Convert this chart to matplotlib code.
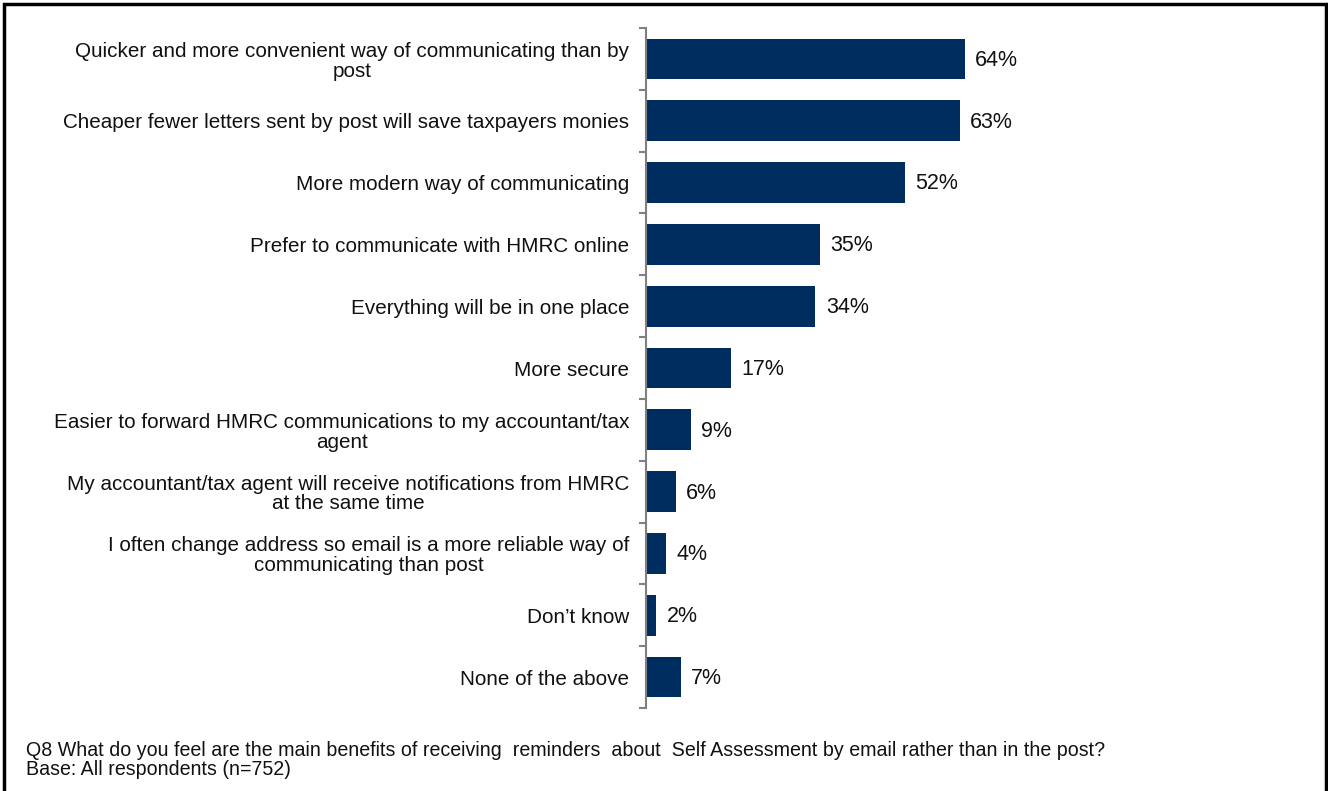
import matplotlib
matplotlib.use("Agg")
import matplotlib.pyplot as plt
from matplotlib.patches import Rectangle

plt.rcParams['font.family'] = ['Liberation Sans', 'DejaVu Sans']

categories = [
    "Quicker and more convenient way of communicating than by\npost",
    "Cheaper fewer letters sent by post will save taxpayers monies",
    "More modern way of communicating",
    "Prefer to communicate with HMRC online",
    "Everything will be in one place",
    "More secure",
    "Easier to forward HMRC communications to my accountant/tax\nagent",
    "My accountant/tax agent will receive notifications from HMRC\nat the same time",
    "I often change address so email is a more reliable way of\ncommunicating than post",
    "Don\u2019t know",
    "None of the above",
]
values = [64, 63, 52, 35, 34, 17, 9, 6, 4, 2, 7]
value_labels = ["64%", "63%", "52%", "35%", "34%", "17%", "9%", "6%", "4%", "2%", "7%"]
footnote = ("Q8 What do you feel are the main benefits of receiving  reminders  about  Self Assessment by email rather than in the post?\n"
            "Base: All respondents (n=752)")

W, H = 1328, 791
fig = plt.figure(figsize=(W / 100, H / 100), dpi=100)
ax = fig.add_axes([646 / W, 1 - 708 / H, (1144 - 646) / W, (708 - 28) / H])

n = len(categories)
pos = list(range(n))
bar_color = '#002D5F'
ax.barh(pos, values, height=0.66, color=bar_color, zorder=2)
ax.set_ylim(n - 0.5, -0.5)
ax.set_xlim(0, 100)

for p, v, lab in zip(pos, values, value_labels):
    ax.annotate(lab, xy=(v, p), xytext=(7.5, -1), textcoords='offset points',
                ha='left', va='center', fontsize=15.5, color='#111111')

ax.set_yticks(pos)
ax.set_yticklabels(categories, fontsize=14.9, multialignment='center', color='#111111',
                   linespacing=1.05)
ax.tick_params(axis='y', which='major', length=0, pad=12)
ax.set_yticks([i - 0.5 for i in range(n + 1)], minor=True)
ax.tick_params(axis='y', which='minor', length=5, width=1.5, color='#808080', direction='out')
ax.set_xticks([])

for s in ['top', 'right', 'bottom']:
    ax.spines[s].set_visible(False)
ax.spines['left'].set_color('#808080')
ax.spines['left'].set_linewidth(1.5)

fig.text(26 / W, 1 - 741 / H, footnote, fontsize=14.1, ha='left', va='top',
         color='#111111', linespacing=1.02)

fig.patches.append(Rectangle((4 / W, -0.01), (1326 - 4) / W, 1 - 4 / H + 0.01,
                             transform=fig.transFigure, fill=False,
                             edgecolor='black', linewidth=2.5))

fig.savefig("out.png", dpi=100)
